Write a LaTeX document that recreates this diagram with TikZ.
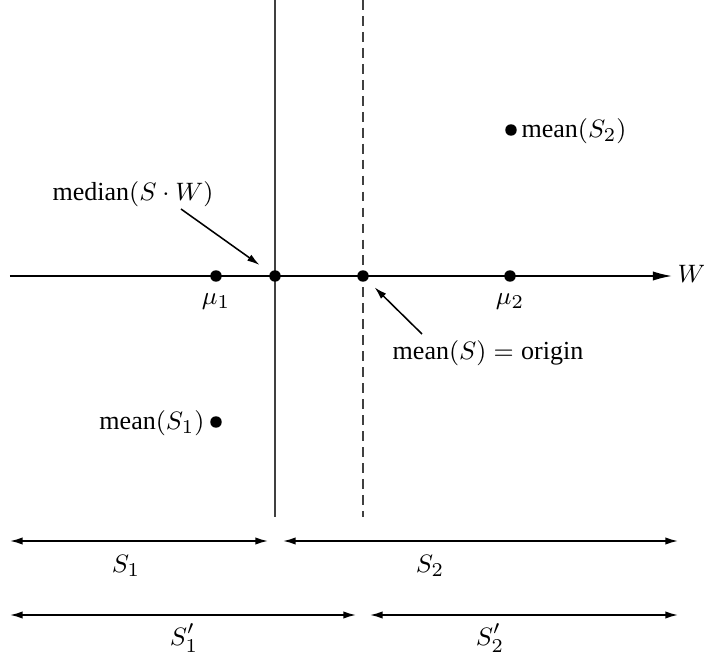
\documentclass[tikz,border=0pt]{standalone}
\usepackage{fontspec}
\setmainfont{Liberation Serif}
\usetikzlibrary{arrows.meta}
\begin{document}
\begin{tikzpicture}[x=0.357pt,y=-0.357pt,
  ln/.style={line width=0.55pt},
  dotnode/.style={circle,fill=black,inner sep=0pt,minimum size=4.1pt},
  lbl/.style={inner sep=0pt,font=\fontsize{9.3}{11}\selectfont},
  ptr/.style={ln,-{Latex[length=4.5pt,width=2.6pt]}},
  span/.style={ln,{Latex[length=4.5pt,width=2.6pt]}-{Latex[length=4.5pt,width=2.6pt]}}]
\useasboundingbox (0,0) rectangle (704,657);
% axis
\coordinate (axL) at (10,276);
\coordinate (axR) at (672,276);
\draw[ln,-{Latex[length=6.8pt,width=3.3pt]}] (axL) -- (axR);
\node[lbl,anchor=west] (W) at (677,274) {$W$};
% vertical lines
\coordinate (vsT) at (275,0);
\coordinate (vsB) at (275,517);
\draw[ln,black!75] (vsT) -- (vsB);
\coordinate (vdT) at (363,0);
\coordinate (vdB) at (363,517);
\draw[ln,black!75,dash pattern=on 3.5pt off 2.2pt] (vdT) -- (vdB);
% dots
\node[dotnode] (mu1) at (216,276) {};
\node[dotnode] (med) at (275,276) {};
\node[dotnode] (mn) at (363,276) {};
\node[dotnode] (mu2) at (510,276) {};
\node[dotnode] (m2) at (511,130) {};
\node[dotnode] (m1) at (216,422) {};
% labels
\node[lbl] (lmu1) at (216,302) {$\mu_1$};
\node[lbl] (lmu2) at (510,302) {$\mu_2$};
\node[lbl,anchor=west] (lm2) at (521,131) {mean$(S_2)$};
\node[lbl,anchor=east] (lm1) at (205,423) {mean$(S_1)$};
\node[lbl] (lmed) at (133,194) {median$(S\cdot W)$};
\node[lbl] (lmn) at (488,353) {mean$(S) = {}$origin};
% pointers
\coordinate (medA) at (181,209);
\draw[ptr,shorten >=4.5pt] (medA) -- (med);
\coordinate (mnA) at (422,334);
\draw[ptr,shorten >=3.5pt] (mnA) -- (mn);
% spans
\coordinate (a1) at (10,541);
\coordinate (a2) at (268,541);
\coordinate (a3) at (283,541);
\coordinate (a4) at (678,541);
\draw[span] (a1) -- (a2);
\draw[span] (a3) -- (a4);
\node[lbl] (s1) at (126,566) {$S_1$};
\node[lbl] (s2) at (430,566) {$S_2$};
\coordinate (b1) at (10,615);
\coordinate (b2) at (356,615);
\coordinate (b3) at (370,615);
\coordinate (b4) at (678,615);
\draw[span] (b1) -- (b2);
\draw[span] (b3) -- (b4);
\node[lbl] (s1p) at (184,638) {$S_1'$};
\node[lbl] (s2p) at (490,638) {$S_2'$};
\end{tikzpicture}
\end{document}
